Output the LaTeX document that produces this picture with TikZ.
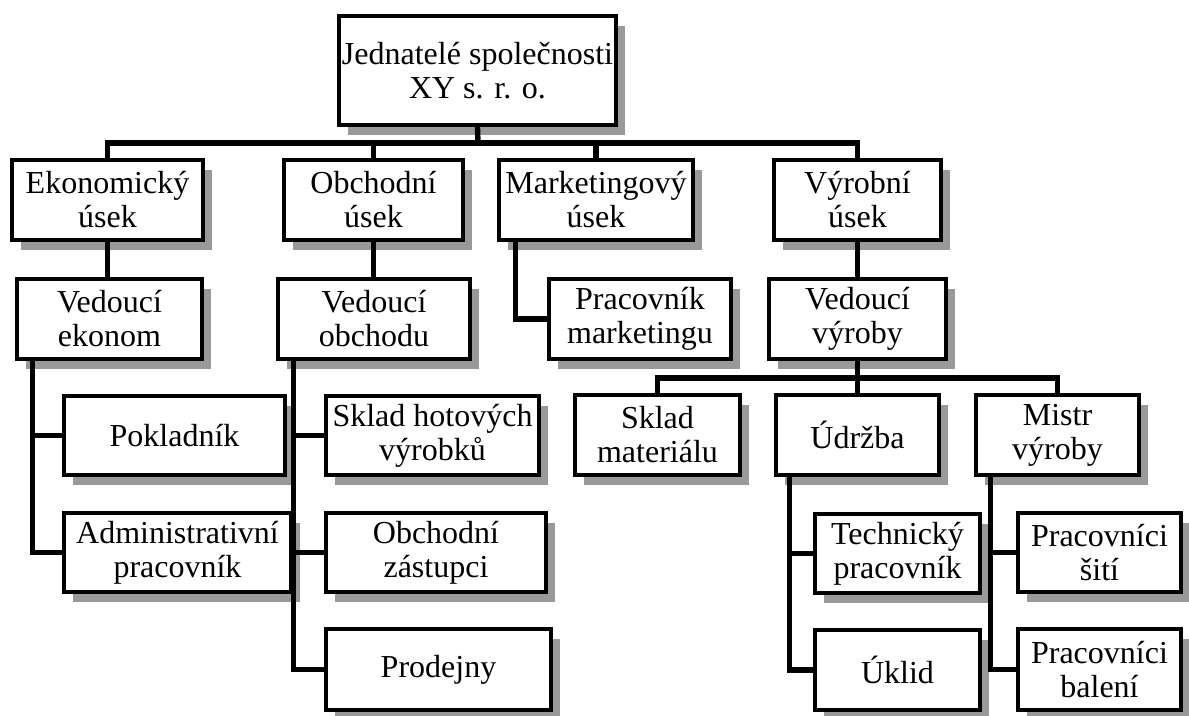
\documentclass[tikz,border=0pt]{standalone}
\usepackage{fontspec}
\setmainfont{Liberation Serif}
\usetikzlibrary{shadows}
\definecolor{shadowgray}{RGB}{153,153,153}
\newcommand\obox[6]{\node[orgbox, minimum width={(#4-#2-4)*0.5pt}, minimum height={(#5-#3-4)*0.5pt}] (#1) at ({(#2+#4)/2},{(#3+#5)/2}) {#6};}
\begin{document}
\begin{tikzpicture}[x=0.5pt,y=-0.5pt,
  orgbox/.style={draw, line width=2.3pt, fill=white, inner sep=0pt, align=center,
    font=\fontsize{16}{17}\selectfont,
    drop shadow={shadow xshift=4.6pt, shadow yshift=-4.8pt, fill=shadowgray, opacity=1}},
  conn/.style={draw, line width=2.7pt, line join=miter, line cap=rect}]
\useasboundingbox (0,0) rectangle (1189,716);

\obox{top}{337}{14}{618}{127}{Jednatelé společnosti\\XY s. r. o.}

\obox{ek}{10}{158}{205}{242}{Ekonomický\\úsek}
\obox{ob}{282}{158}{465}{242}{Obchodní\\úsek}
\obox{mk}{497}{158}{695}{242}{Marketingový\\úsek}
\obox{vy}{772}{158}{943}{242}{Výrobní\\úsek}

\obox{ve}{15}{277}{204}{361}{Vedoucí\\ekonom}
\obox{vo}{276}{277}{472}{361}{Vedoucí\\obchodu}
\obox{pm}{547}{277}{733}{361}{Pracovník\\marketingu}
\obox{vv}{767}{277}{948}{361}{Vedoucí\\výroby}

\obox{pok}{62}{394}{287}{477}{Pokladník}
\obox{adm}{62}{511}{293}{594}{Administrativní\\pracovník}

\obox{shv}{324}{394}{541}{477}{Sklad hotových\\výrobků}
\obox{oz}{324}{511}{548}{594}{Obchodní\\zástupci}
\obox{prod}{324}{627}{553}{712}{Prodejny}

\obox{sm}{573}{393}{742}{477}{Sklad\\materiálu}
\obox{ud}{774}{393}{941}{477}{Údržba}
\obox{mv}{974}{393}{1141}{477}{Mistr\\výroby}

\obox{tp}{813}{512}{982}{595}{Technický\\pracovník}
\obox{uk}{813}{628}{982}{712}{Úklid}
\obox{ps}{1016}{511}{1183}{594}{Pracovníci\\šití}
\obox{pb}{1016}{627}{1183}{712}{Pracovníci\\balení}

% connectors
\coordinate (bus) at (478,143);
\draw[conn] (top.south) -- (bus);
\draw[conn] (ek.north) |- (bus) -| (vy.north);
\draw[conn] (ob.north) -- (ob.north |- bus);
\draw[conn] (mk.north) -- (mk.north |- bus);

\draw[conn] (ek.south) -- (ek.south |- ve.north);
\draw[conn] (ob.south) -- (ob.south |- vo.north);
\draw[conn] (vy.south) -- (vy.south |- vv.north);
\draw[conn] (mk.south west) ++(19,0) |- (pm.west);

\draw[conn] (ve.south west) ++(18,0) |- (pok.west);
\draw[conn] (ve.south west) ++(18,0) |- (adm.west);

\draw[conn] (vo.south west) ++(18,0) |- (shv.west);
\draw[conn] (vo.south west) ++(18,0) |- (oz.west);
\draw[conn] (vo.south west) ++(18,0) |- (prod.west);

\coordinate (vbus) at (857,378);
\draw[conn] (vv.south) -- (vv.south |- vbus);
\draw[conn] (sm.north) |- (vbus) -| (mv.north);
\draw[conn] (ud.north) -- (ud.north |- vbus);

\draw[conn] (ud.south west) ++(16,0) |- (tp.west);
\draw[conn] (ud.south west) ++(16,0) |- (uk.west);
\draw[conn] (mv.south west) ++(17,0) |- (ps.west);
\draw[conn] (mv.south west) ++(17,0) |- (pb.west);
\end{tikzpicture}
\end{document}
